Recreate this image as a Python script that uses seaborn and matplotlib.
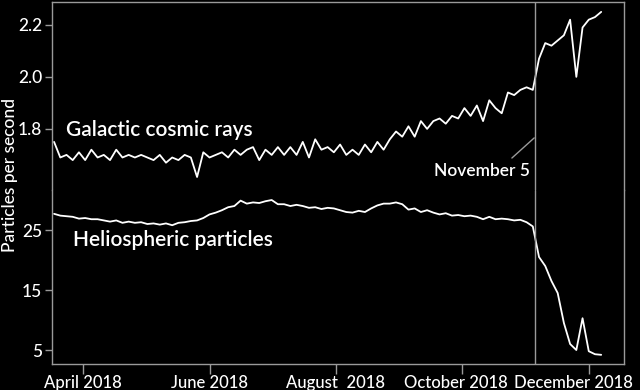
import matplotlib
matplotlib.use("Agg")
import matplotlib.pyplot as plt
import matplotlib.transforms as mtransforms
import pandas as pd
import seaborn as sns

# readings every 3 days starting 18 March 2018
start_date = "2018-03-18"
step = "3D"

cosmic_rays = [
    1.75, 1.69, 1.70, 1.68, 1.71, 1.68, 1.72, 1.69, 1.70, 1.68,
    1.72, 1.69, 1.70, 1.69, 1.70, 1.69, 1.68, 1.70, 1.67, 1.69,
    1.68, 1.70, 1.69, 1.615, 1.71, 1.69, 1.70, 1.71, 1.69, 1.72,
    1.70, 1.72, 1.73, 1.68, 1.72, 1.70, 1.73, 1.70, 1.73, 1.70,
    1.75, 1.69, 1.76, 1.72, 1.73, 1.71, 1.74, 1.70, 1.72, 1.70,
    1.74, 1.71, 1.75, 1.72, 1.76, 1.79, 1.77, 1.81, 1.77, 1.83,
    1.80, 1.83, 1.84, 1.82, 1.85, 1.84, 1.88, 1.85, 1.89, 1.83,
    1.91, 1.88, 1.86, 1.94, 1.93, 1.95, 1.96, 1.95, 2.07, 2.13,
    2.12, 2.14, 2.16, 2.22, 2.00, 2.19, 2.22, 2.23, 2.25,
]

helio_particles = [
    27.7, 27.4, 27.3, 27.2, 26.9, 27.0, 26.8, 26.8, 26.6, 26.4,
    26.6, 26.2, 26.4, 26.2, 26.3, 26.0, 26.1, 25.9, 26.1, 25.8,
    26.2, 26.3, 26.5, 26.6, 27.0, 27.6, 27.9, 28.3, 28.8, 29.0,
    29.9, 29.4, 29.6, 29.5, 29.8, 30.0, 29.3, 29.3, 29.0, 29.2,
    29.0, 28.7, 28.8, 28.5, 28.7, 28.6, 28.3, 28.0, 27.9, 28.2,
    28.0, 28.6, 29.1, 29.4, 29.4, 29.6, 29.3, 28.4, 28.6, 28.0,
    28.3, 27.9, 27.6, 27.8, 27.4, 27.5, 27.3, 27.4, 27.2, 26.8,
    27.2, 26.8, 26.9, 26.8, 26.6, 26.7, 26.3, 25.6, 20.5, 19.0,
    16.5, 14.5, 9.5, 6.0, 5.0, 10.3, 4.8, 4.3, 4.2,
]

tick_dates = ["2018-04-01", "2018-06-01", "2018-08-01", "2018-10-01", "2018-12-01"]
tick_labels = ["April 2018", "June 2018", "August  2018", "October 2018", "December 2018"]
event_date = "2018-11-05"

df = pd.DataFrame({
    "date": pd.date_range(start_date, periods=len(cosmic_rays), freq=step),
    "cosmic": cosmic_rays,
    "helio": helio_particles,
})

sns.set_theme(style="dark")
plt.rcParams["font.family"] = ["Lato", "DejaVu Sans"]
frame = "#9a9a9a"

fig, (ax1, ax2) = plt.subplots(
    2, 1, sharex=True, figsize=(6.4, 3.9), dpi=100,
    gridspec_kw={"height_ratios": [188, 174], "hspace": 0},
)
fig.patch.set_facecolor("black")
fig.subplots_adjust(left=52 / 640, right=624 / 640, top=1 - 2 / 390, bottom=1 - 364 / 390)

sns.lineplot(data=df, x="date", y="cosmic", ax=ax1, color="white", lw=1.3)
sns.lineplot(data=df, x="date", y="helio", ax=ax2, color="white", lw=1.3)

for ax in (ax1, ax2):
    ax.set_facecolor("black")
    ax.grid(False)
    ax.set_xlabel("")
    ax.set_ylabel("")
    ax.axvline(pd.Timestamp(event_date), color=frame, lw=1)
    for sp in ax.spines.values():
        sp.set_color(frame)
        sp.set_linewidth(1)
    ax.tick_params(axis="y", colors=frame, labelcolor="white", labelsize=12.5,
                   left=True, length=5, width=1, pad=2)

ax1.spines["bottom"].set_visible(False)
ax2.spines["top"].set_visible(False)

ax1.set_ylim(1.565, 2.288)
ax1.set_yticks([1.8, 2.0, 2.2], ["1.8", "2.0", "2.2"])
ax2.set_ylim(2.67, 31.67)
ax2.set_yticks([5, 15, 25], ["5", "15", "25"])

ax2.set_xlim(pd.Timestamp("2018-03-17"), pd.Timestamp("2018-12-18"))
ax2.set_xticks(pd.to_datetime(tick_dates), tick_labels)
ax2.tick_params(axis="x", colors=frame, labelcolor="white", labelsize=12,
                bottom=True, length=7, width=1, pad=1)
ax1.tick_params(axis="x", bottom=False)
for lab in ax1.get_yticklabels() + ax2.get_yticklabels() + ax2.get_xticklabels():
    lab.set_fontweight("medium")
labs = ax2.get_xticklabels()
labs[3].set_transform(labs[3].get_transform() + mtransforms.ScaledTranslation(-6 / 100, 0, fig.dpi_scale_trans))
labs[4].set_transform(labs[4].get_transform() + mtransforms.ScaledTranslation(-15 / 100, 0, fig.dpi_scale_trans))

# labels
ax1.text(0.0245, 0.319, "Galactic cosmic rays", transform=ax1.transAxes,
         color="white", fontsize=15, va="center", ha="left", fontweight="semibold")
ax2.text(0.0367, 0.713, "Heliospheric particles", transform=ax2.transAxes,
         color="white", fontsize=15, va="center", ha="left", fontweight="semibold")
ax1.text(0.836, 0.101, "November 5", transform=ax1.transAxes,
         color="white", fontsize=12.5, va="center", ha="right", fontweight="semibold")
ax1.plot([0.804, 0.843], [0.17, 0.277], transform=ax1.transAxes, color=frame, lw=1)

fig.text(10 / 640, 1 - 175 / 390, "Particles per second", rotation=90,
         color="white", fontsize=12.5, va="center", ha="center", fontweight="medium")

fig.savefig("out.png", dpi=100, facecolor="black")
